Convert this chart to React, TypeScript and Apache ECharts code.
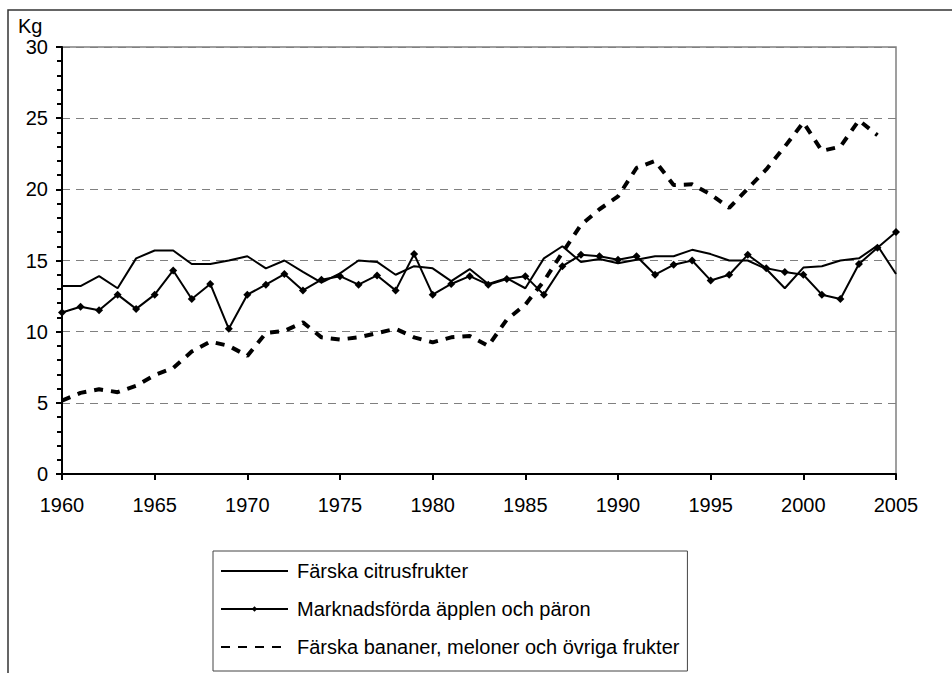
import React, { useEffect, useRef } from "react";
import * as echarts from "echarts";

const years: number[] = [
  1960, 1961, 1962, 1963, 1964, 1965, 1966, 1967, 1968, 1969,
  1970, 1971, 1972, 1973, 1974, 1975, 1976, 1977, 1978, 1979,
  1980, 1981, 1982, 1983, 1984, 1985, 1986, 1987, 1988, 1989,
  1990, 1991, 1992, 1993, 1994, 1995, 1996, 1997, 1998, 1999,
  2000, 2001, 2002, 2003, 2004, 2005,
];

const citrus: number[] = [
  13.2, 13.2, 13.9, 13.05, 15.15, 15.7, 15.7, 14.75, 14.75, 15.0,
  15.3, 14.45, 15.0, 14.2, 13.45, 14.1, 15.0, 14.9, 14.0, 14.6,
  14.45, 13.55, 14.4, 13.35, 13.75, 13.05, 15.15, 16.0, 14.9, 15.1,
  14.8, 15.05, 15.3, 15.3, 15.75, 15.45, 15.0, 15.0, 14.4, 13.05,
  14.5, 14.6, 15.0, 15.15, 16.05, 14.05,
];

const apples: number[] = [
  11.35, 11.75, 11.5, 12.6, 11.6, 12.6, 14.3, 12.3, 13.35, 10.2,
  12.6, 13.3, 14.05, 12.9, 13.65, 13.9, 13.3, 13.95, 12.9, 15.45,
  12.6, 13.35, 13.9, 13.3, 13.7, 13.9, 12.6, 14.6, 15.4, 15.3,
  15.05, 15.3, 14.0, 14.7, 15.0, 13.6, 14.0, 15.4, 14.45, 14.2,
  14.0, 12.6, 12.3, 14.75, 15.9, 17.0,
];

const bananas: (number | null)[] = [
  5.15, 5.7, 5.95, 5.75, 6.2, 6.95, 7.45, 8.6, 9.3, 9.0,
  8.3, 9.9, 10.05, 10.65, 9.6, 9.45, 9.6, 9.9, 10.2, 9.6,
  9.25, 9.6, 9.7, 9.0, 10.85, 11.9, 13.55, 15.55, 17.5, 18.6,
  19.5, 21.5, 22.0, 20.3, 20.35, 19.65, 18.7, 20.05, 21.4, 23.0,
  24.7, 22.7, 23.0, 24.85, 23.8, null,
];

const seriesNames: string[] = [
  "Färska citrusfrukter",
  "Marknadsförda äpplen och päron",
  "Färska bananer, meloner och övriga frukter",
];

const yAxisTitle = "Kg";

const FONT = "'Liberation Sans', Arial, sans-serif";

const pair = (arr: (number | null)[]) => years.map((y, i) => [y, arr[i]]);

const hiddenSymbol = { opacity: 0, color: "rgba(0,0,0,0)", borderWidth: 0 };

export default function App() {
  const ref = useRef<HTMLDivElement>(null);

  useEffect(() => {
    if (!ref.current) return;
    const chart = echarts.init(ref.current, undefined, { renderer: "svg" });
    chart.setOption({
      animation: false,
      backgroundColor: "#ffffff",
      textStyle: { fontFamily: FONT },
      grid: { left: 62, right: 56, top: 47, bottom: 199, show: true, borderColor: "#808080", borderWidth: 1.5 },
      graphic: [
        { type: "rect", shape: { x: 8, y: 10, width: 1200, height: 1000 }, style: { fill: "none", stroke: "#333333", lineWidth: 1.5 }, silent: true, z: -10 },
        { type: "text", x: 18, y: 16, style: { text: yAxisTitle, font: `20px ${FONT}`, fill: "#000" } },
      ],
      legend: {
        orient: "vertical",
        left: 213,
        top: 551,
        padding: [10, 8, 14, 7],
        itemWidth: 67,
        itemHeight: 7,
        itemGap: 18,
        borderColor: "#444444",
        borderWidth: 1,
        textStyle: { fontFamily: FONT, fontSize: 20, color: "#000", lineHeight: 20, padding: [0, 0, 0, 4] },
        data: [
          { name: seriesNames[0], itemStyle: hiddenSymbol },
          { name: seriesNames[1] },
          { name: seriesNames[2], itemStyle: hiddenSymbol },
        ],
      },
      xAxis: {
        type: "value",
        min: 1960,
        max: 2005,
        interval: 5,
        axisLine: { show: true, onZero: false, lineStyle: { color: "#000", width: 2 } },
        axisTick: { show: true, length: 6, lineStyle: { color: "#000", width: 2 } },
        axisLabel: { color: "#000", fontSize: 20, fontFamily: FONT, margin: 21, formatter: (v: number) => String(v) },
        splitLine: { show: false },
      },
      yAxis: {
        type: "value",
        min: 0,
        max: 30,
        interval: 5,
        axisLine: { show: true, lineStyle: { color: "#000", width: 2 } },
        axisTick: { show: true, length: 6, lineStyle: { color: "#000", width: 2 } },
        minorTick: { show: true, splitNumber: 5, length: 5, lineStyle: { color: "#000", width: 2 } },
        axisLabel: { color: "#000", fontSize: 20, fontFamily: FONT, margin: 14 },
        splitLine: { show: true, lineStyle: { color: "#808080", width: 1.2, type: [8, 6] } },
      },
      series: [
        {
          name: seriesNames[0],
          type: "line",
          data: pair(citrus),
          symbol: "none",
          lineStyle: { color: "#000", width: 2 },
          itemStyle: { color: "#000" },
          z: 3,
        },
        {
          name: seriesNames[1],
          type: "line",
          data: pair(apples),
          symbol: "diamond",
          symbolSize: 8,
          lineStyle: { color: "#000", width: 2 },
          itemStyle: { color: "#000" },
          z: 4,
        },
        {
          name: seriesNames[2],
          type: "line",
          data: pair(bananas),
          symbol: "none",
          lineStyle: { color: "#000", width: 4, type: [9, 8] },
          itemStyle: { color: "#000" },
          z: 2,
        },
      ],
    });
    return () => chart.dispose();
  }, []);

  return (
    <div
      ref={ref}
      style={{ position: "fixed", left: 0, top: 0, width: 952, height: 673 }}
    />
  );
}
